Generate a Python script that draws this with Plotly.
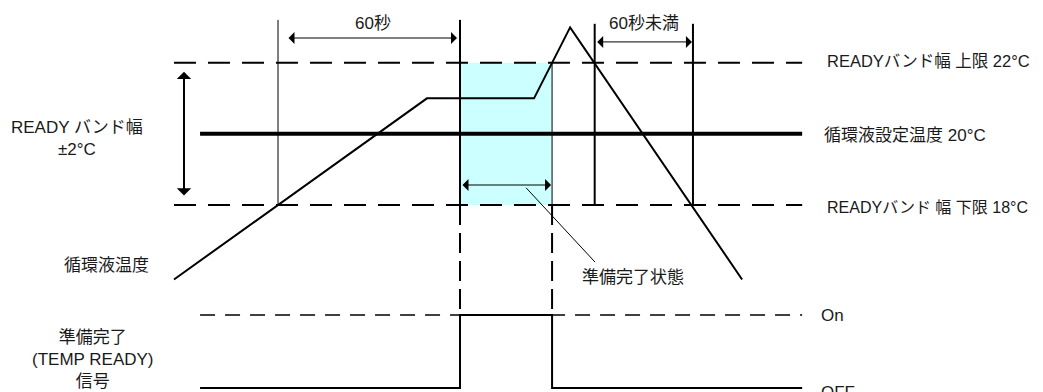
import plotly.graph_objects as go

# time in seconds, t = 0 where the liquid temperature first enters the READY band
temp_time = [-34.3, 49.1, 84.4, 96.3, 153.0]
temp_value = [15.9, 21.0, 21.0, 23.0, 15.9]     # circulating liquid temperature, degC

band_upper = 22.0
set_point = 20.0
band_lower = 18.0

band_start = -34.3
line_start = -25.7
line_end = 172.8

enter_band = 0.0
ready_on = 60.0
ready_off = 90.35
reenter_band = 104.4
leave_band = 136.8

signal_time = [line_start, ready_on, ready_on, ready_off, ready_off, line_end]
signal_state = [0, 0, 1, 1, 0, 0]

# the page body has an 8px margin, so the figure is a bit smaller than the window
PAD = 8
W, H = 1043 - PAD, 392 - PAD
X_RANGE = [-89.02, 252.2]
T_RANGE = [12.73, 23.545]
S_RANGE = [-0.055, 5.205]
FONT = dict(family="Liberation Sans, Noto Sans CJK JP, sans-serif", size=17, color="#1a1a1a")


def t_to_s(t):
    # temperature value -> signal axis value (both axes share the same plot height)
    return S_RANGE[0] + (t - T_RANGE[0]) / (T_RANGE[1] - T_RANGE[0]) * (S_RANGE[1] - S_RANGE[0])


fig = go.Figure()


def line(x, y, width=2, dash="solid", yaxis="y"):
    fig.add_trace(go.Scatter(x=x, y=y, mode="lines", yaxis=yaxis, hoverinfo="skip",
                             line=dict(color="black", width=width, dash=dash)))


# READY state region
fig.add_shape(type="rect", xref="x", yref="y", x0=ready_on, x1=ready_off,
              y0=band_lower, y1=band_upper, fillcolor="#CCFFFF", line_width=0, layer="below")

# band limits and set point
line([band_start, line_end], [band_upper, band_upper], 2, "22px,12px")
line([band_start, line_end], [band_lower, band_lower], 2, "22px,12px")
line([line_start, line_end], [set_point, set_point], 4)

# vertical markers
top = 23.21
line([enter_band, enter_band], [band_lower, top], 1)
line([ready_on, ready_on], [band_lower, top], 2)
line([ready_off, ready_off], [band_lower, band_upper], 1)
line([reenter_band, reenter_band], [band_lower, 23.1], 2)
line([leave_band, leave_band], [band_lower, 23.1], 2)
line([ready_on, ready_on], [t_to_s(band_lower), 1], 2, "20px,8px", "y2")
line([ready_off, ready_off], [t_to_s(band_lower), 1], 2, "20px,8px", "y2")

# temperature trace
line(temp_time, temp_value, 2)

# ready signal
line([line_start, line_end], [1, 1], 1.6, "15px,10px", "y2")
line(signal_time, signal_state, 2, yaxis="y2")

# leader to 準備完了状態
line([81.8, 104.5], [18.48, 16.39], 1)


def arrow(x, y, ax, ay, width=1, size=2.0, standoff=1, startstandoff=1):
    fig.add_annotation(x=x, y=y, ax=ax, ay=ay, xref="x", yref="y", axref="x", ayref="y",
                       text="", showarrow=True, arrowside="end+start", arrowhead=1,
                       arrowsize=size, arrowwidth=width, arrowcolor="black",
                       standoff=standoff, startstandoff=startstandoff)


arrow(ready_on, 22.70, enter_band, 22.70, standoff=3, startstandoff=9)
arrow(leave_band, 22.59, reenter_band, 22.59)
arrow(ready_off, 18.56, ready_on, 18.56)
arrow(-31.0, band_upper, -31.0, band_lower, width=2, size=1.2, standoff=9, startstandoff=8)


def label(text, x, y, xanchor="center", size=17):
    # x, y: position in the window, in pixels
    fig.add_annotation(text=text, x=(x - PAD) / W, y=1 - (y - PAD) / H,
                       xref="paper", yref="paper",
                       showarrow=False, xanchor=xanchor, yanchor="middle", align="center",
                       font=dict(FONT, size=size))


label("60秒", 373, 23)
label("60秒未満", 644, 23)
label("READY バンド幅<br>±2°C", 77, 139)
label("循環液温度", 106, 265)
label("準備完了<br>(TEMP READY)<br>信号", 93, 359)
label("準備完了状態", 580, 277, "left")
label("READYバンド幅 上限 22°C", 825, 61, "left", 16.5)
label("循環液設定温度 20°C", 822, 135, "left")
label("READYバンド 幅 下限 18°C", 825, 207, "left", 16)
label("On", 819, 315, "left")
label("OFF", 819, 392, "left")

fig.update_layout(
    width=W, height=H, margin=dict(l=0, r=0, t=0, b=0),
    plot_bgcolor="white", paper_bgcolor="white", showlegend=False,
    xaxis=dict(range=X_RANGE, visible=False, fixedrange=True),
    yaxis=dict(range=T_RANGE, visible=False, fixedrange=True),
    yaxis2=dict(range=S_RANGE, visible=False, overlaying="y", fixedrange=True),
)

fig.write_html("out.html")
